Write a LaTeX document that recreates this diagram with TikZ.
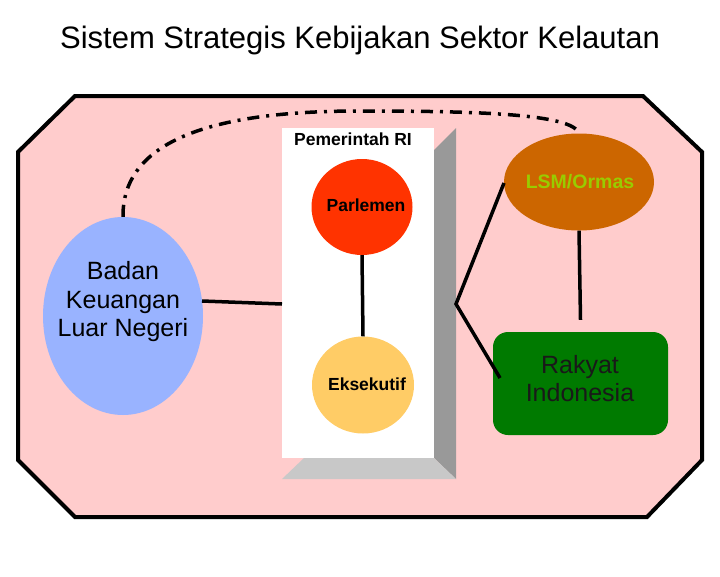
\documentclass[tikz,border=0pt]{standalone}
\usepackage{fontspec}
\setmainfont{Liberation Sans}
\usetikzlibrary{shapes.geometric}
\definecolor{bgpink}{HTML}{FFCCCC}
\definecolor{parl}{HTML}{FF3300}
\definecolor{eks}{HTML}{FFCC66}
\definecolor{badan}{HTML}{99B3FF}
\definecolor{lsm}{HTML}{CC6600}
\definecolor{lsmtext}{HTML}{99CC00}
\definecolor{rakyat}{HTML}{007A00}
\definecolor{grayR}{HTML}{999999}
\definecolor{grayB}{HTML}{C8C8C8}
\begin{document}
\begin{tikzpicture}[x=1pt,y=-1pt,
  conn/.style={line width=3.5pt},
  blob/.style={ellipse,inner sep=0pt},
  lbl/.style={font=\fontsize{17.5}{20}\selectfont\bfseries,text=black}]
\useasboundingbox (0,0) rectangle (720,576);
% title
\node[font=\fontsize{31}{36}\selectfont] (title) at (360,40) {Sistem Strategis Kebijakan Sektor Kelautan};
% octagon background
\draw[fill=bgpink,line width=4pt,line join=miter] (75,96) -- (643,96) -- (702,152) -- (702,460) -- (647,517) -- (75,517) -- (18,460) -- (18,152) -- cycle;
% Pemerintah box
\fill[white] (282,128) rectangle (434,458);
\fill[grayR] (434,150) -- (456,128) -- (456,479) -- (434,458) -- cycle;
\fill[grayB] (282,479) -- (456,479) -- (434,458) -- (304,458) -- cycle;
\coordinate (boxL) at (282,304);
\coordinate (boxR) at (456,304);
\node[lbl,anchor=west,inner sep=0pt] (pem) at (294,139) {Pemerintah RI};
% nodes
\node[blob,fill=parl,minimum width=101pt,minimum height=96pt] (parl) at (362,207) {};
\node[lbl] at (366,205) {Parlemen};
\node[blob,fill=eks,minimum width=102pt,minimum height=97pt] (eks) at (363,385) {};
\node[lbl] at (367,384) {Eksekutif};
\node[blob,fill=badan,minimum width=160pt,minimum height=198pt] (badan) at (123,316) {};
\node[font=\fontsize{25}{28.5}\selectfont,align=center] (badantext) at (123,302) {Badan\\Keuangan\\Luar Negeri};
\node[blob,fill=lsm,minimum width=150pt,minimum height=97pt] (lsm) at (579,182) {};
\node[font=\fontsize{19.5}{22}\selectfont\bfseries,text=lsmtext] at (580,182) {LSM/Ormas};
\node[draw=none,fill=rakyat,rounded corners=15pt,minimum width=175pt,minimum height=103pt] (rakyat) at (580.5,383.5) {};
\node[font=\fontsize{25}{28}\selectfont,align=center,text=black!90] at (580,379) {Rakyat\\Indonesia};
% connectors
\draw[conn] (parl.south) -- (eks.north);
\draw[conn] (202,301) -- (boxL);
\draw[conn] (lsm.south) -- ([yshift=12pt]rakyat.north);
\draw[conn] (504,183) -- (boxR) -- (500,378);
\draw[conn,dash pattern=on 12pt off 7pt on 3pt off 7pt] (badan.north) .. controls (122,130) and (240,111) .. (360,111) .. controls (480,111) and (572,114) .. (lsm.north);
\end{tikzpicture}
\end{document}
